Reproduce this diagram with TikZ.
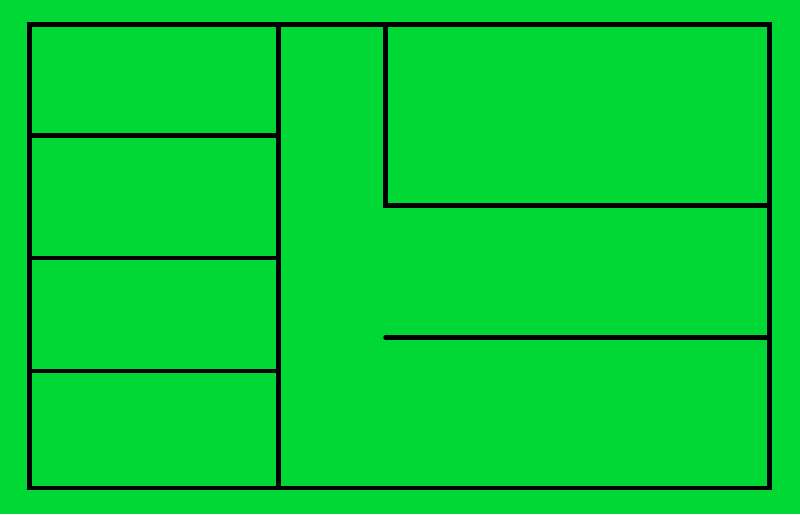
\documentclass[tikz,border=0pt]{standalone}
\definecolor{bggreen}{RGB}{0,216,54}
\begin{document}
\begin{tikzpicture}[x=1pt,y=-1pt,wall/.style={line width=4.5pt,black}]
\fill[bggreen] (0,0) rectangle (800,514);
\useasboundingbox (0,0) rectangle (800,514);
\draw[wall] (29.5,24.5) rectangle (769.5,488);
\draw[wall] (278.5,24.5) -- (278.5,488);
\draw[wall] (29.5,135.5) -- (278.5,135.5);
\draw[wall] (29.5,258) -- (278.5,258);
\draw[wall] (29.5,371) -- (278.5,371);
\draw[wall] (385.7,24.5) -- (385.7,205.5) -- (769.5,205.5);
\draw[wall,line cap=round] (385.5,337.5) -- (769.5,337.5);
\end{tikzpicture}
\end{document}
